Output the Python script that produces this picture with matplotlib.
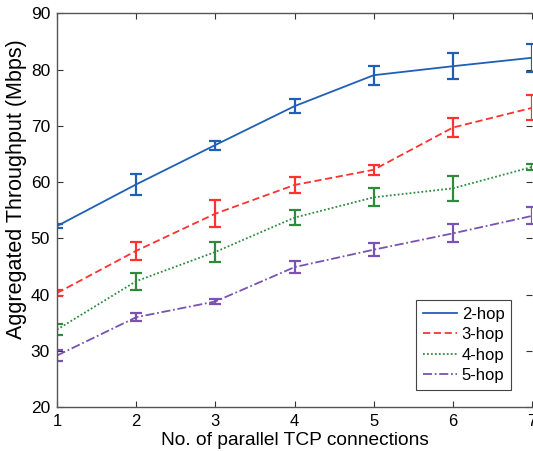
import matplotlib
matplotlib.use("Agg")
import matplotlib.pyplot as plt
from matplotlib.lines import Line2D

connections = [1, 2, 3, 4, 5, 6, 7]

hop2 = [52.2, 59.6, 66.6, 73.5, 79.0, 80.6, 82.1]
hop2_err = [0.4, 1.8, 0.8, 1.2, 1.7, 2.3, 2.5]
hop3 = [40.3, 47.8, 54.4, 59.5, 62.2, 69.7, 73.2]
hop3_err = [0.6, 1.6, 2.4, 1.4, 0.9, 1.7, 2.2]
hop4 = [33.8, 42.4, 47.6, 53.7, 57.3, 58.9, 62.7]
hop4_err = [1.0, 1.5, 1.7, 1.3, 1.6, 2.2, 0.6]
hop5 = [29.2, 36.0, 38.8, 44.9, 48.0, 50.9, 54.0]
hop5_err = [0.9, 0.7, 0.4, 1.1, 1.2, 1.6, 1.5]

series = [
    ("2-hop", hop2, hop2_err, "#1f5fb5", "-"),
    ("3-hop", hop3, hop3_err, "#ff3232", (0, (4, 2))),
    ("4-hop", hop4, hop4_err, "#2e8b3c", (0, (1, 1.2))),
    ("5-hop", hop5, hop5_err, "#7a52b3", (0, (5, 1.5, 1, 1.5))),
]

plt.rcParams["font.family"] = ["Liberation Sans", "DejaVu Sans"]

fig = plt.figure(figsize=(5.33, 4.51), dpi=100)
ax = fig.add_axes([57 / 533, 1 - 407.3 / 451, 475 / 533, (407.3 - 13.3) / 451])

handles = []
for name, vals, err, color, ls in series:
    ax.errorbar(connections, vals, yerr=err, color=color, linestyle=ls,
                linewidth=1.3, capsize=4, elinewidth=1.6, capthick=1.6)
    handles.append(Line2D([], [], color=color, linestyle=ls, linewidth=1.3,
                          label=name))

ax.set_xlim(1, 7)
ax.set_ylim(20, 90)
ax.set_xticks(connections)
ax.set_yticks(range(20, 91, 10))
ax.tick_params(direction="in", top=True, right=True, length=4,
               labelsize=12, color="#333333", pad=5)
ax.tick_params(axis="y", labelsize=12.5)
for sp in ax.spines.values():
    sp.set_color("#555555")
    sp.set_linewidth(1.0)
# right edge of the figure is cropped in the reference: only the ticks show
ax.spines["right"].set_visible(False)

ax.set_xlabel("No. of parallel TCP connections", fontsize=13.8, labelpad=2)
ax.set_ylabel("Aggregated Throughput (Mbps)", fontsize=15.5)
ax.yaxis.set_label_coords(-0.064, 0.554)

leg = ax.legend(handles=handles, loc="lower right", fontsize=12,
                bbox_to_anchor=(0.956, 0.044), fancybox=False, framealpha=1,
                handlelength=2.05, handletextpad=0.3, labelspacing=0.33,
                borderpad=0.4, borderaxespad=0)
leg.get_frame().set_edgecolor("#444444")
leg.get_frame().set_linewidth(0.8)

fig.savefig("out.png", dpi=100)
